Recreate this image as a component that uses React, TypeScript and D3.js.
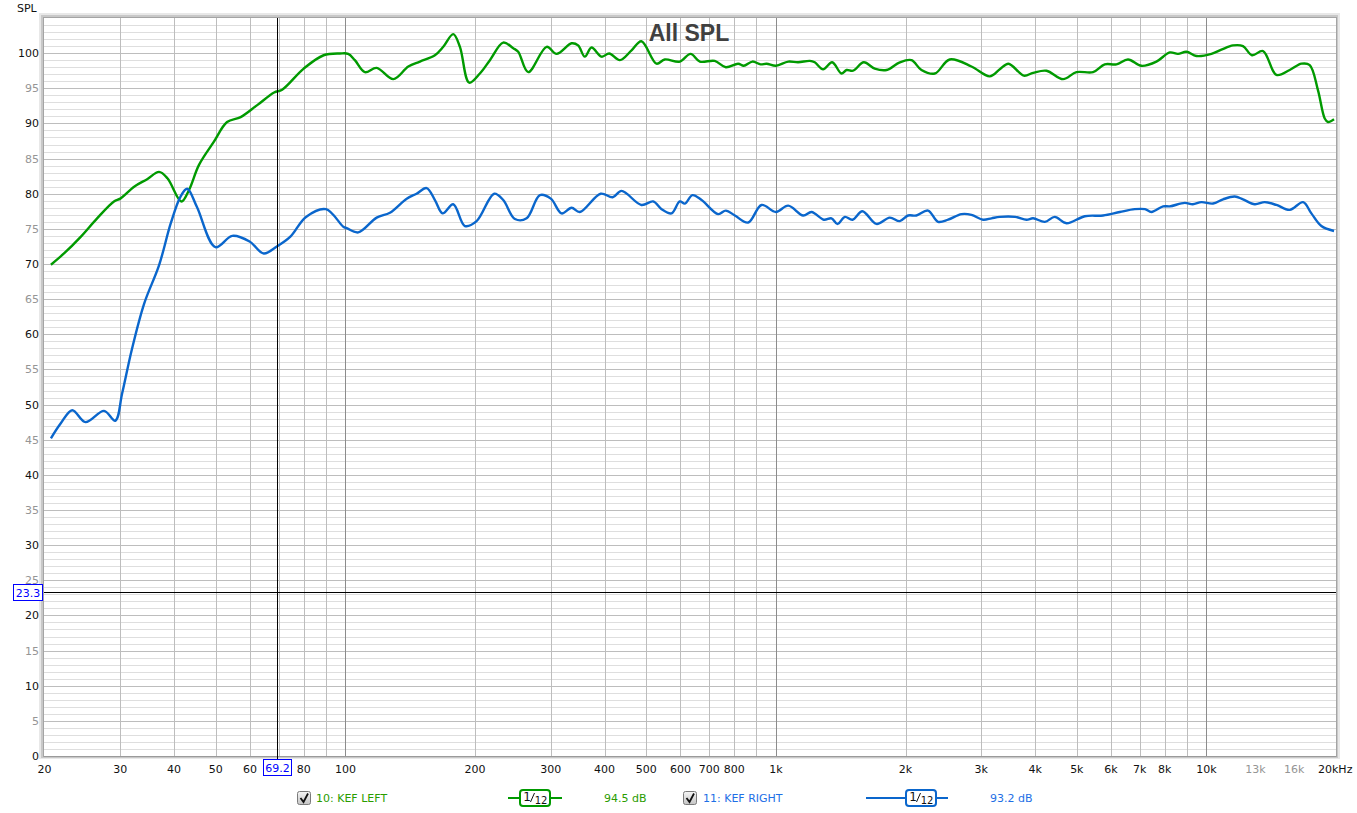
import React, { useRef, useEffect } from 'react';
import * as d3 from 'd3';

// KEF LEFT, 1/12 octave smoothed (Hz, dB)
const leftCurve: [number, number][] = [
  [20.7, 69.9], [22.2, 71.5], [24.3, 73.9], [26.5, 76.5], [29.0, 78.9], [30, 79.3],
  [32.3, 81.0], [34.7, 82.1], [36.9, 83.1], [38.6, 82.2], [41.6, 78.9], [43.3, 80.5],
  [45.7, 84.1], [49.5, 87.4], [53.1, 90.2], [57.1, 90.9], [62.4, 92.6], [68.3, 94.4],
  [71.3, 94.8], [80, 97.8], [89, 99.7], [97.1, 99.95], [101.5, 99.9], [105.2, 99.0],
  [111, 97.3], [118.2, 97.9], [129.2, 96.3], [140, 98.1], [149, 98.8], [161.4, 99.7],
  [168.8, 100.9], [178, 102.7], [184.5, 100.9], [193.9, 95.8], [205.3, 97.1], [216.6, 99.0],
  [232.6, 101.5], [245.4, 100.7], [252, 100.2], [265.8, 97.3], [293.4, 100.9], [309.4, 99.9],
  [335.2, 101.4], [347.2, 101.1], [359.8, 99.5], [373, 100.8], [393.6, 99.5], [410, 99.95],
  [434, 99.0], [462, 100.4], [487, 101.7], [528, 98.5], [552, 99.1], [598, 98.8],
  [633.6, 99.9], [665.8, 98.8], [721, 98.9], [765, 98.0], [817, 98.5], [842, 98.2],
  [882, 98.8], [921, 98.4], [951, 98.5], [1000, 98.2], [1068, 98.8], [1126, 98.7],
  [1199, 98.9], [1231, 98.7], [1287, 97.7], [1351, 98.7], [1420, 97.1], [1459, 97.6],
  [1511, 97.5], [1600, 98.7], [1697, 97.8], [1807, 97.6], [1940, 98.7], [2065, 99.0],
  [2178, 97.6], [2339, 97.1], [2534, 99.1], [2846, 98.1], [3138, 96.7], [3312, 97.7],
  [3470, 98.5], [3766, 96.8], [3958, 97.2], [4252, 97.5], [4646, 96.3], [4990, 97.3],
  [5454, 97.3], [5806, 98.4], [6180, 98.4], [6576, 99.1], [7064, 98.2], [7654, 98.8],
  [8222, 100.1], [8590, 99.9], [8986, 100.2], [9480, 99.6], [10270, 99.9], [10834, 100.5],
  [11530, 101.1], [12162, 101.0], [12762, 99.7], [13538, 100.3], [14542, 96.9], [15612, 97.6],
  [16628, 98.5], [17378, 98.3], [18166, 94.7], [18830, 90.7], [19160, 90.2], [19790, 90.6],
];

// KEF RIGHT, 1/12 octave smoothed (Hz, dB)
const rightCurve: [number, number][] = [
  [20.7, 45.2], [21.8, 47.3], [23.2, 49.2], [24.9, 47.5], [27.5, 49.1], [29.2, 47.7],
  [30.3, 51.6], [31.9, 57.8], [34.1, 64.4], [36.9, 69.8], [39.3, 75.8], [41.4, 79.6],
  [42.9, 80.7], [45.2, 78.1], [49.9, 72.4], [54.6, 74.0], [59.9, 73.2], [64.6, 71.5],
  [69.3, 72.5], [74.5, 73.9], [81, 76.7], [90.1, 77.8], [98.9, 75.3], [100.7, 75.1],
  [107.1, 74.5], [118.2, 76.6], [126.9, 77.3], [138.8, 79.3], [146.3, 80.0], [154.4, 80.8],
  [161.4, 79.1], [168.2, 77.2], [178, 78.5], [189.5, 75.4], [201.7, 76.1], [221.6, 80.0],
  [232.6, 79.1], [247.6, 76.4], [263.6, 76.5], [283, 79.8], [300, 79.3], [317.8, 77.2],
  [335.2, 78.0], [350.4, 77.4], [391.6, 80.0], [417.6, 79.5], [438, 80.4], [487, 78.4],
  [518.6, 78.9], [542.6, 77.8], [572, 77.2], [598, 78.9], [614.6, 78.6], [640, 79.8],
  [672, 79.1], [734, 77.1], [765, 77.6], [803, 76.9], [862, 75.9], [926, 78.4],
  [1000, 77.4], [1068, 78.3], [1157, 76.9], [1210, 77.4], [1292, 76.3], [1346, 76.5],
  [1390, 75.7], [1446, 76.7], [1506, 76.3], [1588, 77.5], [1712, 75.7], [1838, 76.6],
  [1940, 76.1], [2028, 76.9], [2120, 76.9], [2256, 77.6], [2380, 76.0], [2512, 76.3],
  [2698, 77.1], [2846, 77.0], [3028, 76.3], [3168, 76.5], [3312, 76.7], [3596, 76.7],
  [3820, 76.3], [3958, 76.5], [4214, 76.0], [4444, 76.7], [4730, 75.8], [5218, 76.8],
  [5754, 76.9], [6292, 77.4], [6816, 77.8], [7200, 77.8], [7452, 77.4], [7932, 78.2],
  [8222, 78.2], [8904, 78.7], [9300, 78.5], [9738, 78.8], [10360, 78.6], [10930, 79.2],
  [11634, 79.6], [12162, 79.2], [12950, 78.5], [13660, 78.8], [14542, 78.4], [15612, 77.7],
  [16774, 78.8], [17532, 77.2], [18494, 75.4], [19790, 74.7],
];

// x tick labels: [freq, text, muted]
const xTickLabels: [number, string, boolean][] = [
  [20, '20', false], [30, '30', false], [40, '40', false], [50, '50', false], [60, '60', false],
  [80, '80', false], [100, '100', false], [200, '200', false], [300, '300', false],
  [400, '400', false], [500, '500', false], [600, '600', false], [700, '700', false],
  [800, '800', false], [1000, '1k', false], [2000, '2k', false], [3000, '3k', false],
  [4000, '4k', false], [5000, '5k', false], [6000, '6k', false], [7000, '7k', false],
  [8000, '8k', false], [10000, '10k', false], [13000, '13k', true], [16000, '16k', true],
  [20000, '20kHz', false],
];

const yTickValues = [0, 5, 10, 15, 20, 25, 30, 35, 40, 45, 50, 55, 60, 65, 70, 75, 80, 85, 90, 95, 100];

const cursorFreq = 69.2;
const cursorDb = 23.3;

const legendItems = [
  { name: '10: KEF LEFT', level: '94.5 dB', color: '#009a00', text: '#2a9c00' },
  { name: '11: KEF RIGHT', level: '93.2 dB', color: '#0a66cc', text: '#1e6fe6' },
];

const FONT = '"DejaVu Sans", Verdana, sans-serif';

const App: React.FC = () => {
  const ref = useRef<SVGSVGElement>(null);

  useEffect(() => {
    if (!ref.current) return;
    const svg = d3.select(ref.current);
    svg.selectAll('*').remove();

    const L = 44, R = 1336, T = 18, B = 756;
    const x = d3.scaleLog().domain([20, 20000]).range([L + 0.5, R]);
    const y = d3.scaleLinear().domain([0, 105]).range([B, T]);

    svg.append('rect').attr('width', 1357).attr('height', 813).attr('fill', '#fff');

    // frame with soft shadow
    svg.append('rect').attr('x', 39).attr('y', 13).attr('width', R - 39 + 4).attr('height', B - 13 + 3).attr('fill', '#e8e8e8');
    svg.append('rect').attr('x', 41).attr('y', 15).attr('width', R - 41 + 2).attr('height', B - 15 + 2).attr('fill', '#c8c8c8');
    svg.append('rect').attr('x', 43).attr('y', 17).attr('width', R - 43 + 1).attr('height', B - 17 + 1).attr('fill', '#a4a4a4');
    svg.append('rect').attr('x', L).attr('y', T).attr('width', R - L).attr('height', B - T).attr('fill', '#fff');

    const grid = svg.append('g').attr('shape-rendering', 'crispEdges');

    // horizontal grid, 1 dB minor / 5 dB major
    d3.range(1, 105).forEach(v => {
      const yy = Math.round(y(v)) + 0.5;
      grid.append('line')
        .attr('x1', L).attr('x2', R).attr('y1', yy).attr('y2', yy)
        .attr('stroke', v % 5 === 0 ? '#bdbdbd' : '#dedede');
    });

    // vertical grid
    const vFreqs: number[] = [];
    [10, 100, 1000, 10000].forEach(d => d3.range(1, 10).forEach(m => {
      const f = d * m;
      if (f > 20 && f < 20000) vFreqs.push(f);
    }));
    vFreqs.forEach(f => {
      const xx = Math.round(x(f)) + 0.5;
      const decade = f === 100 || f === 1000 || f === 10000;
      grid.append('line')
        .attr('x1', xx).attr('x2', xx).attr('y1', T).attr('y2', B)
        .attr('stroke', decade ? '#8c8c8c' : f > 10000 ? '#d8d8d8' : '#bdbdbd');
    });

    // bottom axis line
    grid.append('line').attr('x1', L).attr('x2', R).attr('y1', B + 0.5).attr('y2', B + 0.5).attr('stroke', '#9a9a9a');

    // y labels
    svg.append('text').attr('x', 17).attr('y', 12).attr('font-family', FONT).attr('font-size', 11).attr('fill', '#111').text('SPL');
    yTickValues.forEach(v => {
      svg.append('text')
        .attr('x', 39).attr('y', y(v) + 4)
        .attr('text-anchor', 'end')
        .attr('font-family', FONT).attr('font-size', 11)
        .attr('fill', v % 10 === 0 ? '#111' : '#959595')
        .text(v);
    });

    // x labels
    xTickLabels.forEach(([f, t, muted]) => {
      svg.append('text')
        .attr('x', f === 20000 ? x(f) - 18 : x(f)).attr('y', 773)
        .attr('text-anchor', f === 20000 ? 'start' : 'middle')
        .attr('font-family', FONT).attr('font-size', 11)
        .attr('fill', muted ? '#959595' : '#111')
        .text(t);
    });

    // curves
    const line = d3.line<[number, number]>()
      .x(d => x(d[0]))
      .y(d => y(d[1]))
      .curve(d3.curveCatmullRom.alpha(0.5));

    const plotArea = svg.append('g');
    plotArea.append('path').datum(leftCurve)
      .attr('fill', 'none').attr('stroke', legendItems[0].color).attr('stroke-width', 2.4)
      .attr('stroke-linejoin', 'round').attr('d', line);
    plotArea.append('path').datum(rightCurve)
      .attr('fill', 'none').attr('stroke', legendItems[1].color).attr('stroke-width', 2.4)
      .attr('stroke-linejoin', 'round').attr('d', line);

    // title
    svg.append('text')
      .attr('x', 689).attr('y', 41).attr('text-anchor', 'middle')
      .attr('font-family', '"Liberation Sans", Arial, sans-serif').attr('font-weight', 'bold')
      .attr('font-size', 23).attr('fill', '#404040')
      .text('All SPL');

    // cursor
    const cx = Math.round(x(cursorFreq)) + 0.5;
    const cy = Math.round(y(cursorDb)) + 0.5;
    const cur = svg.append('g').attr('shape-rendering', 'crispEdges');
    cur.append('line').attr('x1', cx).attr('x2', cx).attr('y1', T).attr('y2', 760).attr('stroke', '#000');
    cur.append('line').attr('x1', L).attr('x2', R).attr('y1', cy).attr('y2', cy).attr('stroke', '#000');

    cur.append('rect').attr('x', cx - 14.5).attr('y', 759.5).attr('width', 28).attr('height', 16)
      .attr('fill', '#fff').attr('stroke', '#0000ff');
    svg.append('text').attr('x', cx).attr('y', 772).attr('text-anchor', 'middle')
      .attr('font-family', FONT).attr('font-size', 11).attr('fill', '#0000ff').text(cursorFreq.toFixed(1));

    cur.append('rect').attr('x', 13.5).attr('y', cy - 8).attr('width', 29).attr('height', 16)
      .attr('fill', '#fff').attr('stroke', '#0000ff');
    svg.append('text').attr('x', 28).attr('y', cy + 4).attr('text-anchor', 'middle')
      .attr('font-family', FONT).attr('font-size', 11).attr('fill', '#0000ff').text(cursorDb.toFixed(1));

    // legend
    const defs = svg.append('defs');
    const grad = defs.append('linearGradient').attr('id', 'cb').attr('x1', 0).attr('y1', 0).attr('x2', 0).attr('y2', 1);
    grad.append('stop').attr('offset', '0%').attr('stop-color', '#f6f6f6');
    grad.append('stop').attr('offset', '100%').attr('stop-color', '#c4c4c4');

    const legendLayout = [
      { box: 297, label: 316, sym: [508, 562], frac: 535, level: 604 },
      { box: 683, label: 703, sym: [866, 948], frac: 921, level: 990 },
    ];
    const ly = 798;
    legendItems.forEach((item, i) => {
      const p = legendLayout[i];
      const g = svg.append('g');
      g.append('rect').attr('x', p.box + 0.5).attr('y', ly - 6.5).attr('width', 13).attr('height', 13)
        .attr('rx', 2).attr('fill', 'url(#cb)').attr('stroke', '#7a7a7a');
      g.append('path')
        .attr('d', `M${p.box + 3.5},${ly} L${p.box + 6.5},${ly + 4} L${p.box + 11},${ly - 4.5}`)
        .attr('fill', 'none').attr('stroke', '#111').attr('stroke-width', 1.8);
      g.append('text').attr('x', p.label).attr('y', ly + 4)
        .attr('font-family', FONT).attr('font-size', 11).attr('fill', item.text).text(item.name);

      g.append('line').attr('x1', p.sym[0]).attr('x2', p.sym[1]).attr('y1', ly).attr('y2', ly)
        .attr('stroke', item.color).attr('stroke-width', 2);
      g.append('rect').attr('x', p.frac - 15).attr('y', ly - 8).attr('width', 30).attr('height', 16)
        .attr('rx', 3).attr('fill', '#fff').attr('stroke', item.color).attr('stroke-width', 2);
      // "1/12" smoothing fraction
      g.append('text').attr('x', p.frac - 8).attr('y', ly + 3).attr('text-anchor', 'middle')
        .attr('font-family', FONT).attr('font-size', 12).attr('fill', '#111').text('1');
      g.append('line').attr('x1', p.frac - 4.5).attr('y1', ly + 4).attr('x2', p.frac - 0.5).attr('y2', ly - 5)
        .attr('stroke', '#111').attr('stroke-width', 1);
      g.append('text').attr('x', p.frac + 6).attr('y', ly + 6).attr('text-anchor', 'middle')
        .attr('font-family', FONT).attr('font-size', 10).attr('fill', '#111').text('12');

      g.append('text').attr('x', p.level).attr('y', ly + 4)
        .attr('font-family', FONT).attr('font-size', 11).attr('fill', item.text).text(item.level);
    });
  }, []);

  return (
    <svg
      ref={ref}
      width={1357}
      height={813}
      style={{ position: 'absolute', left: 0, top: 0, display: 'block' }}
    />
  );
};

export default App;
